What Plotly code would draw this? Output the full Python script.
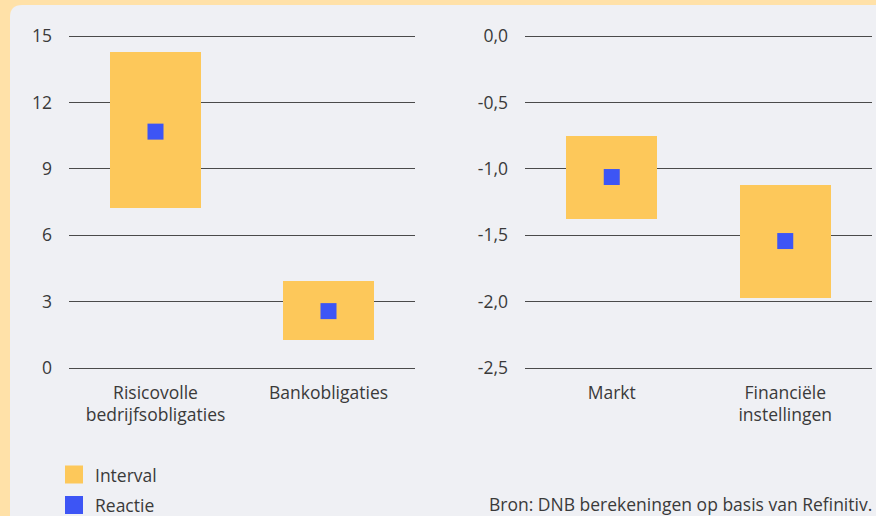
import plotly.graph_objects as go

W, H = 876, 516

# ---- data ----
left_categories = ["Risicovolle<br>bedrijfsobligaties", "Bankobligaties"]
left_low = [7.23, 1.26]
left_high = [14.28, 3.93]
left_reactie = [10.68, 2.57]
left_tickvals = [0, 3, 6, 9, 12, 15]
left_ticktext = ["0", "3", "6", "9", "12", "15"]

right_categories = ["Markt", "Financiële<br>instellingen"]
right_low = [-1.378, -1.97]
right_high = [-0.753, -1.122]
right_reactie = [-1.062, -1.544]
right_tickvals = [0.0, -0.5, -1.0, -1.5, -2.0, -2.5]
right_ticktext = ["0,0", "-0,5", "-1,0", "-1,5", "-2,0", "-2,5"]

legend_labels = ["Interval", "Reactie"]
source_text = "Bron: DNB berekeningen op basis van Refinitiv."

# ---- styles ----
ORANGE_BG = "#FFE1A8"
PANEL = "#EFF0F4"
BAR = "#FDC85A"
MARK = "#3D55F5"
GRID = "#4a4a4a"
TXT = "#3a3a3a"
FONT = "Open Sans, Noto Sans, sans-serif"
FS = 17.5


def px(x):
    return x / W


def py(y):
    return 1 - y / H


fig = go.Figure()

for cats, low, high, reac, xa, ya in [
    (left_categories, left_low, left_high, left_reactie, "x", "y"),
    (right_categories, right_low, right_high, right_reactie, "x2", "y2"),
]:
    fig.add_trace(go.Bar(
        x=cats, y=[h - l for h, l in zip(high, low)], base=low,
        width=0.526, marker=dict(color=BAR, line=dict(width=0)),
        xaxis=xa, yaxis=ya, showlegend=False, hoverinfo="skip",
    ))
    fig.add_trace(go.Scatter(
        x=cats, y=reac, mode="markers",
        marker=dict(symbol="square", size=16, color=MARK, line=dict(width=0)),
        xaxis=xa, yaxis=ya, showlegend=False,
    ))

# small padding so edge gridlines are drawn
pad = 2  # px
ydom = [py(368 + pad), py(36 - pad)]
lpad = 15 / 332 * pad
rpad = 2.5 / 332 * pad
common_x = dict(type="category", showgrid=False, zeroline=False, showline=False,
                ticks="", tickfont=dict(size=FS, color=TXT, family=FONT),
                ticklabelstandoff=10, range=[-0.5, 1.5], fixedrange=True,
                automargin=False)
common_y = dict(showgrid=True, gridcolor=GRID, gridwidth=1.3, zeroline=False,
                showline=False, ticks="", tickfont=dict(size=FS, color=TXT, family=FONT),
                ticklabelstandoff=16, fixedrange=True, automargin=False)

fig.update_layout(
    width=W, height=H,
    margin=dict(l=0, r=0, t=0, b=0, pad=0, autoexpand=False),
    paper_bgcolor=ORANGE_BG,
    plot_bgcolor="rgba(0,0,0,0)",
    font=dict(family=FONT, size=FS, color=TXT),
    showlegend=False,
    bargap=0,
    xaxis=dict(domain=[px(69), px(415)], anchor="y", **common_x),
    yaxis=dict(domain=ydom, anchor="x", range=[0 - lpad, 15 + lpad],
               tickvals=left_tickvals, ticktext=left_ticktext, **common_y),
    xaxis2=dict(domain=[px(525), px(872)], anchor="y2", **common_x),
    yaxis2=dict(domain=ydom, anchor="x2", range=[-2.5 - rpad, 0 + rpad],
                tickvals=right_tickvals, ticktext=right_ticktext, **common_y),
)

# panel background with rounded top-left corner
r = 12
x0, y0 = px(10), py(5)
path = (f"M {x0},{py(H + 5)} L {x0},{py(5 + r)} "
        f"Q {x0},{y0} {px(10 + r)},{y0} L {px(W + 5)},{y0} "
        f"L {px(W + 5)},{py(H + 5)} Z")
fig.add_shape(type="path", path=path, xref="paper", yref="paper",
              fillcolor=PANEL, line=dict(width=0), layer="below")

# manual legend
for i, (lab, col) in enumerate(zip(legend_labels, [BAR, MARK])):
    cy = 474.5 + 30.5 * i
    fig.add_shape(type="rect", xref="paper", yref="paper",
                  x0=px(65), x1=px(83), y0=py(cy + 9), y1=py(cy - 9),
                  fillcolor=col, line=dict(width=0))
    fig.add_annotation(x=px(93), y=py(cy), xref="paper", yref="paper",
                       text=lab, showarrow=False, xanchor="left", yanchor="middle",
                       font=dict(size=FS, color=TXT, family=FONT))

fig.add_annotation(x=px(874), y=py(504), xref="paper", yref="paper",
                   text=source_text, showarrow=False, xanchor="right", yanchor="middle",
                   font=dict(size=FS, color=TXT, family=FONT))

fig.write_html(
    "out.html",
    config={"displayModeBar": False},
    post_script="document.body.style.margin='0';document.body.style.overflow='hidden';",
)
